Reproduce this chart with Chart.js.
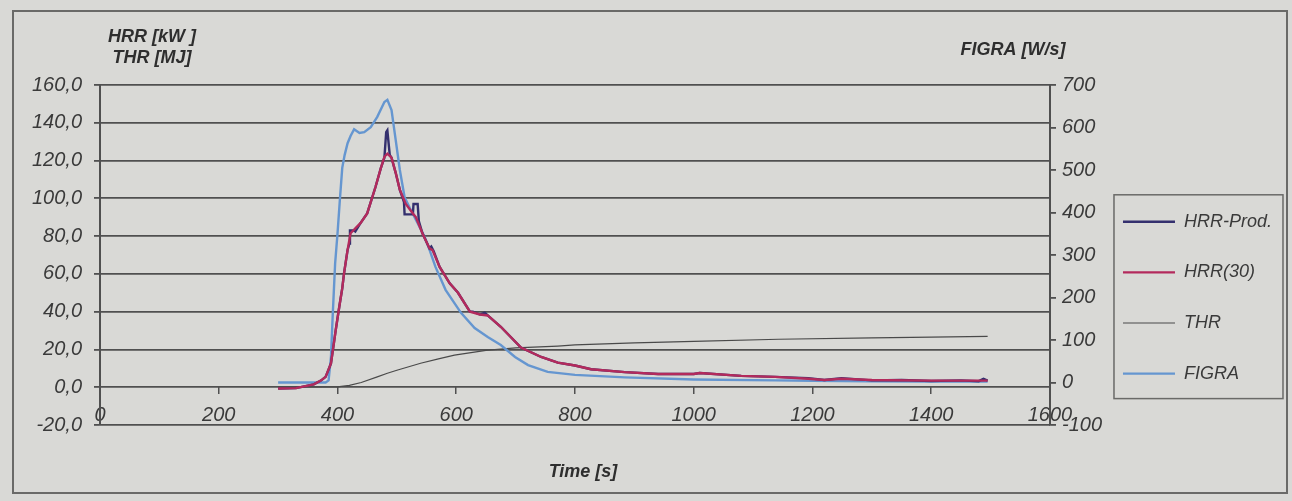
<!DOCTYPE html>
<html lang="de">
<head>
<meta charset="UTF-8">
<title>HRR / THR / FIGRA</title>
<script src="https://cdn.jsdelivr.net/npm/chart.js@4"></script>
<style>
  html, body { margin: 0; padding: 0; background: #d9d9d6; }
  #wrap { position: relative; width: 1292px; height: 501px; }
  #frame { position: absolute; left: 12px; top: 10px; width: 1272px; height: 480px; border: 2px solid #6a6a68; pointer-events: none; }
</style>
</head>
<body>
<div id="wrap">
  <canvas id="chart"></canvas>
  <div id="frame"></div>
</div>
<script>
// values (time in s)
const hrrProdTime = [300, 330, 360, 372, 380, 389, 393, 397, 403, 408,
  411, 417, 420, 421, 428, 430, 439, 450, 464, 473,
  479, 482, 484, 488, 491, 498, 505, 512, 513, 527,
  528, 535, 537, 543, 555, 558, 562, 572, 589, 603,
  623, 628, 640, 648, 653, 675, 709, 743, 771, 800,
  827, 884, 940, 1000, 1010, 1080, 1137, 1193, 1220, 1249,
  1300, 1350, 1400, 1450, 1480, 1488, 1495];
const hrrProd = [-0.7, -0.5, 1.5, 3.5, 5.5, 12.6, 21.4, 30.2, 42.6, 52.3,
  60.3, 72.7, 76, 83, 83, 82.5, 87, 92, 106, 116,
  121.5, 135, 136, 123, 121.5, 113.5, 104.5, 98, 91.5, 91.5,
  97, 97, 88, 81.5, 73.5, 74.5, 72, 63.7, 55, 50,
  40, 40, 38.5, 39.5, 38, 32, 21, 16, 13, 11.5,
  9.5, 8, 7, 7, 7.5, 6, 5.5, 4.8, 3.8, 4.8,
  3.6, 3.8, 3.3, 3.6, 3.2, 4.5, 3.5];

const hrr30Time = [300, 330, 360, 372, 380, 389, 393, 397, 403, 408,
  411, 417, 422, 439, 450, 464, 473, 479, 484, 491,
  498, 505, 515, 527, 532, 543, 555, 560, 572, 589,
  603, 623, 640, 653, 675, 709, 743, 771, 800, 827,
  884, 940, 1000, 1010, 1080, 1137, 1193, 1220, 1249, 1300,
  1400, 1495];
const hrr30 = [-0.7, -0.5, 1.5, 3.5, 5.5, 12.6, 21.4, 30.2, 42.6, 52.3,
  60.3, 72.7, 81.5, 87, 92, 106, 116, 122, 123.6, 121.5,
  113.5, 104.5, 97, 92, 90, 81.5, 73.5, 72.6, 63.7, 55,
  50, 40, 38.5, 38, 32, 21, 16, 13, 11.5, 9.5,
  8, 7, 7, 7.5, 6, 5.5, 4.5, 3.8, 4.5, 3.8,
  3.5, 3.5];

const thrTime = [300, 400, 420, 440, 467, 484, 500, 540, 570, 597,
  650, 700, 771, 800, 900, 1000, 1143, 1300, 1400, 1495];
const thr = [0, 0.2, 1, 2.5, 5.5, 7.4, 9, 12.7, 15, 17,
  19.5, 20.8, 21.8, 22.4, 23.5, 24.3, 25.4, 26.1, 26.5, 26.9];

const figraTime = [300, 340, 380, 385, 389, 392, 396, 400, 404, 408,
  412, 417, 422, 428, 437, 445, 456, 467, 479, 484,
  491, 498, 505, 513, 522, 535, 547, 555, 565, 582,
  608, 631, 653, 675, 699, 721, 754, 800, 884, 1000,
  1137, 1200, 1300, 1400, 1495];
const figra = [0, 0, 0, 5, 60, 160, 280, 350, 430, 505,
  535, 563, 580, 596, 587, 589, 601, 625, 660, 665,
  641, 571, 500, 436, 410, 375, 342, 312, 272, 218,
  164, 128, 107, 88, 60, 41, 25, 18, 12, 7,
  5, 4, 3, 2.5, 2];

const seriesNames = ['HRR-Prod.', 'HRR(30)', 'THR', 'FIGRA'];
const leftTitle = ['HRR [kW ]', 'THR [MJ]'];
const rightTitle = 'FIGRA [W/s]';
const xTitle = 'Time [s]';

const FONT = "'Liberation Sans', Arial, sans-serif";
const INK = '#3a3a3a';
const GRID = '#505050';

function pts(t, v) {
  return t.map((x, i) => ({ x: x, y: v[i] }));
}

// axis titles sit above the axes, not rotated
const axisTitles = {
  id: 'axisTitles',
  afterDraw(chart) {
    const { ctx, chartArea: a } = chart;
    ctx.save();
    ctx.fillStyle = '#2e2e2e';
    ctx.font = 'italic bold 18px ' + FONT;
    ctx.textAlign = 'center';
    ctx.textBaseline = 'middle';
    ctx.fillText(leftTitle[0], a.left + 52, a.top - 48);
    ctx.fillText(leftTitle[1], a.left + 52, a.top - 27);
    ctx.fillText(rightTitle, a.right - 37, a.top - 35);
    ctx.fillText(xTitle, (a.left + a.right) / 2 + 8, a.bottom + 47);
    ctx.restore();
  }
};

// frame around the legend
const legendFrame = {
  id: 'legendFrame',
  afterDraw(chart) {
    const hb = chart.legend && chart.legend.legendHitBoxes;
    if (!hb || !hb.length) return;
    const { ctx } = chart;
    const first = hb[0], last = hb[hb.length - 1];
    const x0 = first.left - 9;
    const y0 = first.top - 18;
    const y1 = last.top + 34;
    ctx.save();
    ctx.strokeStyle = '#6a6a68';
    ctx.lineWidth = 1.5;
    ctx.strokeRect(x0, y0, 169, y1 - y0);
    ctx.restore();
  }
};

new Chart(document.getElementById('chart'), {
  type: 'line',
  data: {
    datasets: [
      { label: seriesNames[0], data: pts(hrrProdTime, hrrProd), yAxisID: 'y', borderColor: '#34306e', backgroundColor: '#34306e', borderWidth: 2.4, order: 2 },
      { label: seriesNames[1], data: pts(hrr30Time, hrr30), yAxisID: 'y', borderColor: '#b32a5c', backgroundColor: '#b32a5c', borderWidth: 2.4, order: 1 },
      { label: seriesNames[2], data: pts(thrTime, thr), yAxisID: 'y', borderColor: '#4a4a4a', backgroundColor: '#4a4a4a', borderWidth: 1.2, order: 4 },
      { label: seriesNames[3], data: pts(figraTime, figra), yAxisID: 'y2', borderColor: '#6596d0', backgroundColor: '#6596d0', borderWidth: 2.4, order: 3 }
    ]
  },
  options: {
    responsive: true,
    maintainAspectRatio: false,
    animation: false,
    events: [],
    layout: { padding: { left: 12, right: 10, top: 85, bottom: 76 } },
    elements: { point: { radius: 0 }, line: { tension: 0 } },
    plugins: {
      tooltip: { enabled: false },
      legend: {
        position: 'right',
        // empty title only pushes the entries down
        title: { display: true, text: '', font: { size: 10 }, padding: { top: 95, bottom: 0 } },
        labels: {
          usePointStyle: true,
          pointStyle: 'line',
          pointStyleWidth: 52,
          padding: 11,
          color: INK,
          font: { family: FONT, size: 18, style: 'italic', lineHeight: 2.2 },
          sort: (a, b) => a.datasetIndex - b.datasetIndex,
          generateLabels: chart => Chart.defaults.plugins.legend.labels.generateLabels(chart)
            .map(l => Object.assign(l, { text: [l.text] }))
        }
      }
    },
    scales: {
      x: {
        type: 'linear',
        position: { y: 0 },
        min: 0,
        max: 1600,
        ticks: { stepSize: 200, maxRotation: 0, padding: 9, color: INK, font: { family: FONT, size: 20, style: 'italic' },
                 callback: v => String(v) },
        grid: { drawOnChartArea: false, color: GRID, lineWidth: 1.5, tickLength: 7 },
        border: { display: false }
      },
      y: {
        position: 'left',
        min: -20,
        max: 160,
        ticks: { stepSize: 20, padding: 12, color: INK, font: { family: FONT, size: 20, style: 'italic' },
                 callback: v => v.toFixed(1).replace('.', ',') },
        grid: { color: GRID, lineWidth: 1.8, tickLength: 6 },
        border: { color: GRID, width: 2 },
        afterFit: s => { s.width = 88; }
      },
      y2: {
        position: 'right',
        min: -100,
        max: 700,
        ticks: { stepSize: 100, padding: 6, color: INK, font: { family: FONT, size: 20, style: 'italic' } },
        grid: { drawOnChartArea: false, color: GRID, lineWidth: 1.8, tickLength: 6 },
        border: { color: GRID, width: 2 },
        afterFit: s => { s.width = 62; }
      }
    }
  },
  plugins: [axisTitles, legendFrame]
});
</script>
</body>
</html>
